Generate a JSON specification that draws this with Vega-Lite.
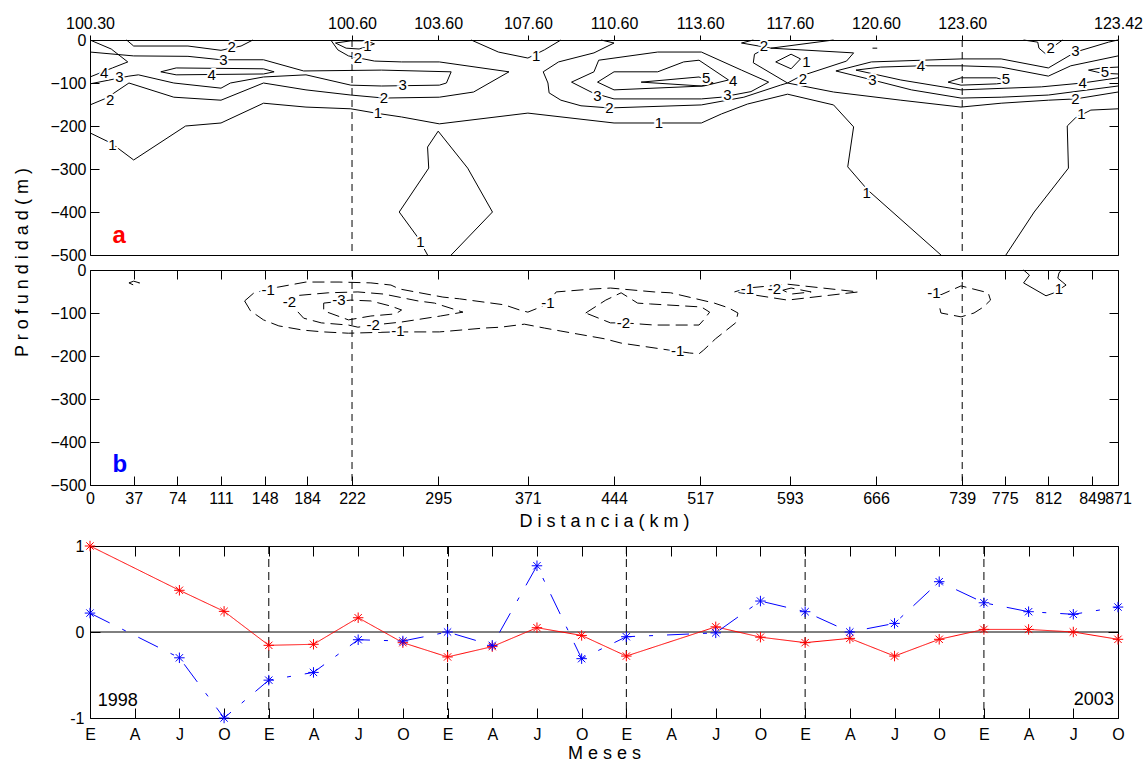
{
"$schema": "https://vega.github.io/schema/vega-lite/v6.json",
"background": "white",
"padding": {"left": 12, "top": 14, "right": 0, "bottom": 0},
"config": {
  "font": "Liberation Sans",
  "view": {"stroke": "black", "strokeWidth": 1},
  "axis": {"grid": false, "labelFontSize": 16, "labelColor": "black", "tickColor": "black", "tickWidth": 1, "titleColor": "black", "titleFontWeight": "normal", "titleFontSize": 18, "labelFlush": false}
},
"datasets": {
  "sec": [{"km": 222}, {"km": 739}],
  "ca": [
    {"g":"a01","lvl":2,"x":31,"y":0},{"g":"a01","lvl":2,"x":37,"y":-14},{"g":"a01","lvl":2,"x":83,"y":-14},{"g":"a01","lvl":2,"x":111,"y":-24},{"g":"a01","lvl":2,"x":128,"y":-14},{"g":"a01","lvl":2,"x":138,"y":0},
    {"g":"a02","lvl":4,"x":0,"y":0},{"g":"a02","lvl":4,"x":18,"y":-21},{"g":"a02","lvl":4,"x":32,"y":-51},{"g":"a02","lvl":4,"x":19,"y":-65},{"g":"a02","lvl":4,"x":0,"y":-86},
    {"g":"a03","lvl":3,"x":0,"y":-28},{"g":"a03","lvl":3,"x":37,"y":-37},{"g":"a03","lvl":3,"x":83,"y":-38},{"g":"a03","lvl":3,"x":111,"y":-46},{"g":"a03","lvl":3,"x":147,"y":-46},{"g":"a03","lvl":3,"x":181,"y":-72},{"g":"a03","lvl":3,"x":247,"y":-70},{"g":"a03","lvl":3,"x":306,"y":-74},{"g":"a03","lvl":3,"x":302,"y":-100},{"g":"a03","lvl":3,"x":296,"y":-105},{"g":"a03","lvl":3,"x":247,"y":-107},{"g":"a03","lvl":3,"x":221,"y":-105},{"g":"a03","lvl":3,"x":183,"y":-81},{"g":"a03","lvl":3,"x":147,"y":-86},{"g":"a03","lvl":3,"x":119,"y":-100},{"g":"a03","lvl":3,"x":111,"y":-112},{"g":"a03","lvl":3,"x":71,"y":-100},{"g":"a03","lvl":3,"x":41,"y":-81},{"g":"a03","lvl":3,"x":33,"y":-84},{"g":"a03","lvl":3,"x":0,"y":-102},
    {"g":"a04","lvl":4,"x":60,"y":-74},{"g":"a04","lvl":4,"x":73,"y":-65},{"g":"a04","lvl":4,"x":147,"y":-67},{"g":"a04","lvl":4,"x":156,"y":-74},{"g":"a04","lvl":4,"x":147,"y":-79},{"g":"a04","lvl":4,"x":73,"y":-81},{"g":"a04","lvl":4,"x":60,"y":-74},
    {"g":"a05","lvl":2,"x":204,"y":0},{"g":"a05","lvl":2,"x":210,"y":-23},{"g":"a05","lvl":2,"x":219,"y":-37},{"g":"a05","lvl":2,"x":241,"y":-49},{"g":"a05","lvl":2,"x":264,"y":-51},{"g":"a05","lvl":2,"x":296,"y":-51},{"g":"a05","lvl":2,"x":355,"y":-74},{"g":"a05","lvl":2,"x":325,"y":-121},{"g":"a05","lvl":2,"x":296,"y":-133},{"g":"a05","lvl":2,"x":249,"y":-135},{"g":"a05","lvl":2,"x":221,"y":-128},{"g":"a05","lvl":2,"x":183,"y":-116},{"g":"a05","lvl":2,"x":147,"y":-100},{"g":"a05","lvl":2,"x":111,"y":-140},{"g":"a05","lvl":2,"x":71,"y":-133},{"g":"a05","lvl":2,"x":33,"y":-100},{"g":"a05","lvl":2,"x":14,"y":-135},{"g":"a05","lvl":2,"x":0,"y":-151},
    {"g":"a06","lvl":1,"x":208,"y":-7},{"g":"a06","lvl":1,"x":217,"y":-19},{"g":"a06","lvl":1,"x":228,"y":-21},{"g":"a06","lvl":1,"x":241,"y":-9},{"g":"a06","lvl":1,"x":234,"y":-2},{"g":"a06","lvl":1,"x":221,"y":-2},{"g":"a06","lvl":1,"x":208,"y":-7},
    {"g":"a07","lvl":1,"x":0,"y":-216},{"g":"a07","lvl":1,"x":18,"y":-240},{"g":"a07","lvl":1,"x":37,"y":-279},{"g":"a07","lvl":1,"x":81,"y":-200},{"g":"a07","lvl":1,"x":111,"y":-193},{"g":"a07","lvl":1,"x":147,"y":-147},{"g":"a07","lvl":1,"x":183,"y":-156},{"g":"a07","lvl":1,"x":221,"y":-160},{"g":"a07","lvl":1,"x":242,"y":-170},{"g":"a07","lvl":1,"x":264,"y":-179},{"g":"a07","lvl":1,"x":296,"y":-195},{"g":"a07","lvl":1,"x":371,"y":-170},{"g":"a07","lvl":1,"x":444,"y":-193},{"g":"a07","lvl":1,"x":518,"y":-193},{"g":"a07","lvl":1,"x":535,"y":-172},{"g":"a07","lvl":1,"x":557,"y":-149},{"g":"a07","lvl":1,"x":591,"y":-126},{"g":"a07","lvl":1,"x":630,"y":-151},{"g":"a07","lvl":1,"x":647,"y":-202},{"g":"a07","lvl":1,"x":642,"y":-295},{"g":"a07","lvl":1,"x":659,"y":-349},{"g":"a07","lvl":1,"x":721,"y":-500},
    {"g":"a08","lvl":1,"x":306,"y":-500},{"g":"a08","lvl":1,"x":341,"y":-400},{"g":"a08","lvl":1,"x":320,"y":-298},{"g":"a08","lvl":1,"x":295,"y":-212},{"g":"a08","lvl":1,"x":286,"y":-249},{"g":"a08","lvl":1,"x":287,"y":-298},{"g":"a08","lvl":1,"x":262,"y":-400},{"g":"a08","lvl":1,"x":278,"y":-460},{"g":"a08","lvl":1,"x":286,"y":-500},
    {"g":"a09","lvl":1,"x":323,"y":0},{"g":"a09","lvl":1,"x":346,"y":-28},{"g":"a09","lvl":1,"x":371,"y":-42},{"g":"a09","lvl":1,"x":385,"y":-23},{"g":"a09","lvl":1,"x":399,"y":0},
    {"g":"a10","lvl":2,"x":577,"y":-19},{"g":"a10","lvl":2,"x":647,"y":-30},{"g":"a10","lvl":2,"x":641,"y":-49},{"g":"a10","lvl":2,"x":602,"y":-84},{"g":"a10","lvl":2,"x":591,"y":-100},{"g":"a10","lvl":2,"x":585,"y":-105},{"g":"a10","lvl":2,"x":554,"y":-133},{"g":"a10","lvl":2,"x":518,"y":-151},{"g":"a10","lvl":2,"x":440,"y":-158},{"g":"a10","lvl":2,"x":416,"y":-153},{"g":"a10","lvl":2,"x":399,"y":-140},{"g":"a10","lvl":2,"x":389,"y":-123},{"g":"a10","lvl":2,"x":388,"y":-100},{"g":"a10","lvl":2,"x":384,"y":-74},{"g":"a10","lvl":2,"x":397,"y":-51},{"g":"a10","lvl":2,"x":427,"y":-30},{"g":"a10","lvl":2,"x":444,"y":-7},{"g":"a10","lvl":2,"x":433,"y":0},
    {"g":"a11","lvl":2,"x":562,"y":0},{"g":"a11","lvl":2,"x":552,"y":-7},{"g":"a11","lvl":2,"x":577,"y":-19},{"g":"a11","lvl":2,"x":630,"y":0},
    {"g":"a12","lvl":2,"x":570,"y":-23},{"g":"a12","lvl":2,"x":563,"y":-33},{"g":"a12","lvl":2,"x":562,"y":-53},{"g":"a12","lvl":2,"x":591,"y":-100},{"g":"a12","lvl":2,"x":630,"y":-121},{"g":"a12","lvl":2,"x":687,"y":-140},{"g":"a12","lvl":2,"x":738,"y":-156},{"g":"a12","lvl":2,"x":772,"y":-147},{"g":"a12","lvl":2,"x":812,"y":-140},{"g":"a12","lvl":2,"x":835,"y":-137},{"g":"a12","lvl":2,"x":871,"y":-121},
    {"g":"a13","lvl":3,"x":408,"y":-98},{"g":"a13","lvl":3,"x":427,"y":-74},{"g":"a13","lvl":3,"x":431,"y":-47},{"g":"a13","lvl":3,"x":481,"y":-28},{"g":"a13","lvl":3,"x":518,"y":-28},{"g":"a13","lvl":3,"x":552,"y":-70},{"g":"a13","lvl":3,"x":575,"y":-98},{"g":"a13","lvl":3,"x":560,"y":-120},{"g":"a13","lvl":3,"x":535,"y":-133},{"g":"a13","lvl":3,"x":518,"y":-137},{"g":"a13","lvl":3,"x":444,"y":-137},{"g":"a13","lvl":3,"x":426,"y":-123},{"g":"a13","lvl":3,"x":408,"y":-98},
    {"g":"a14","lvl":4,"x":430,"y":-98},{"g":"a14","lvl":4,"x":444,"y":-74},{"g":"a14","lvl":4,"x":481,"y":-74},{"g":"a14","lvl":4,"x":503,"y":-51},{"g":"a14","lvl":4,"x":516,"y":-47},{"g":"a14","lvl":4,"x":541,"y":-93},{"g":"a14","lvl":4,"x":520,"y":-107},{"g":"a14","lvl":4,"x":444,"y":-116},{"g":"a14","lvl":4,"x":430,"y":-98},
    {"g":"a15","lvl":5,"x":467,"y":-98},{"g":"a15","lvl":5,"x":516,"y":-86},{"g":"a15","lvl":5,"x":528,"y":-100},{"g":"a15","lvl":5,"x":518,"y":-107},{"g":"a15","lvl":5,"x":467,"y":-98},
    {"g":"a16","lvl":1,"x":581,"y":-51},{"g":"a16","lvl":1,"x":594,"y":-33},{"g":"a16","lvl":1,"x":602,"y":-44},{"g":"a16","lvl":1,"x":594,"y":-67},{"g":"a16","lvl":1,"x":581,"y":-51},
    {"g":"a17","lvl":2,"x":663,"y":-19},{"g":"a17","lvl":2,"x":667,"y":-19},
    {"g":"a18","lvl":3,"x":871,"y":0},{"g":"a18","lvl":3,"x":863,"y":-5},{"g":"a18","lvl":3,"x":835,"y":-28},{"g":"a18","lvl":3,"x":812,"y":-65},{"g":"a18","lvl":3,"x":772,"y":-44},{"g":"a18","lvl":3,"x":738,"y":-44},{"g":"a18","lvl":3,"x":662,"y":-51},{"g":"a18","lvl":3,"x":632,"y":-72},{"g":"a18","lvl":3,"x":663,"y":-93},{"g":"a18","lvl":3,"x":696,"y":-116},{"g":"a18","lvl":3,"x":738,"y":-135},{"g":"a18","lvl":3,"x":772,"y":-133},{"g":"a18","lvl":3,"x":812,"y":-128},{"g":"a18","lvl":3,"x":871,"y":-107},
    {"g":"a19","lvl":4,"x":871,"y":-37},{"g":"a19","lvl":4,"x":831,"y":-60},{"g":"a19","lvl":4,"x":812,"y":-84},{"g":"a19","lvl":4,"x":772,"y":-63},{"g":"a19","lvl":4,"x":738,"y":-60},{"g":"a19","lvl":4,"x":704,"y":-60},{"g":"a19","lvl":4,"x":670,"y":-63},{"g":"a19","lvl":4,"x":649,"y":-70},{"g":"a19","lvl":4,"x":687,"y":-93},{"g":"a19","lvl":4,"x":738,"y":-116},{"g":"a19","lvl":4,"x":806,"y":-109},{"g":"a19","lvl":4,"x":841,"y":-100},{"g":"a19","lvl":4,"x":871,"y":-88},
    {"g":"a20","lvl":5,"x":727,"y":-98},{"g":"a20","lvl":5,"x":738,"y":-88},{"g":"a20","lvl":5,"x":768,"y":-88},{"g":"a20","lvl":5,"x":780,"y":-98},{"g":"a20","lvl":5,"x":768,"y":-102},{"g":"a20","lvl":5,"x":738,"y":-105},{"g":"a20","lvl":5,"x":727,"y":-98},
    {"g":"a21","lvl":5,"x":871,"y":-63},{"g":"a21","lvl":5,"x":857,"y":-65},{"g":"a21","lvl":5,"x":846,"y":-70},{"g":"a21","lvl":5,"x":857,"y":-77},{"g":"a21","lvl":5,"x":871,"y":-79},
    {"g":"a22","lvl":2,"x":791,"y":0},{"g":"a22","lvl":2,"x":803,"y":-5},{"g":"a22","lvl":2,"x":804,"y":-19},{"g":"a22","lvl":2,"x":810,"y":-33},{"g":"a22","lvl":2,"x":818,"y":-12},{"g":"a22","lvl":2,"x":824,"y":0},
    {"g":"a23","lvl":1,"x":776,"y":-500},{"g":"a23","lvl":1,"x":800,"y":-400},{"g":"a23","lvl":1,"x":829,"y":-298},{"g":"a23","lvl":1,"x":828,"y":-200},{"g":"a23","lvl":1,"x":835,"y":-181},{"g":"a23","lvl":1,"x":848,"y":-163},{"g":"a23","lvl":1,"x":871,"y":-160}
  ],
  "la": [
    {"x":120,"y":-17,"t":"2"},{"x":12,"y":-77,"t":"4"},{"x":25,"y":-86,"t":"3"},{"x":113,"y":-46,"t":"3"},{"x":103,"y":-81,"t":"4"},{"x":265,"y":-105,"t":"3"},{"x":17,"y":-140,"t":"2"},{"x":227,"y":-42,"t":"2"},{"x":249,"y":-135,"t":"2"},{"x":235,"y":-14,"t":"1"},{"x":19,"y":-244,"t":"1"},{"x":244,"y":-170,"t":"1"},{"x":378,"y":-37,"t":"1"},{"x":482,"y":-193,"t":"1"},{"x":280,"y":-470,"t":"1"},{"x":440,"y":-158,"t":"2"},{"x":430,"y":-130,"t":"3"},{"x":540,"y":-128,"t":"3"},{"x":545,"y":-95,"t":"4"},{"x":522,"y":-88,"t":"5"},{"x":571,"y":-14,"t":"2"},{"x":607,"y":-51,"t":"1"},{"x":604,"y":-91,"t":"2"},{"x":663,"y":-93,"t":"3"},{"x":704,"y":-60,"t":"4"},{"x":776,"y":-91,"t":"5"},{"x":814,"y":-19,"t":"2"},{"x":835,"y":-26,"t":"3"},{"x":860,"y":-74,"t":"5"},{"x":841,"y":-100,"t":"4"},{"x":835,"y":-137,"t":"2"},{"x":840,"y":-172,"t":"1"},{"x":658,"y":-356,"t":"1"}
  ],
  "cb": [
    {"g":"b00","lvl":-1,"x":33,"y":-30},{"g":"b00","lvl":-1,"x":37,"y":-26},{"g":"b00","lvl":-1,"x":42,"y":-30},{"g":"b00","lvl":-1,"x":37,"y":-35},{"g":"b00","lvl":-1,"x":33,"y":-30},
    {"g":"b01","lvl":-1,"x":131,"y":-72},{"g":"b01","lvl":-1,"x":139,"y":-53},{"g":"b01","lvl":-1,"x":159,"y":-40},{"g":"b01","lvl":-1,"x":183,"y":-28},{"g":"b01","lvl":-1,"x":211,"y":-28},{"g":"b01","lvl":-1,"x":238,"y":-30},{"g":"b01","lvl":-1,"x":255,"y":-35},{"g":"b01","lvl":-1,"x":262,"y":-44},{"g":"b01","lvl":-1,"x":299,"y":-63},{"g":"b01","lvl":-1,"x":313,"y":-67},{"g":"b01","lvl":-1,"x":351,"y":-81},{"g":"b01","lvl":-1,"x":364,"y":-93},{"g":"b01","lvl":-1,"x":371,"y":-98},{"g":"b01","lvl":-1,"x":380,"y":-88},{"g":"b01","lvl":-1,"x":388,"y":-77},{"g":"b01","lvl":-1,"x":395,"y":-51},{"g":"b01","lvl":-1,"x":427,"y":-44},{"g":"b01","lvl":-1,"x":441,"y":-42},{"g":"b01","lvl":-1,"x":478,"y":-51},{"g":"b01","lvl":-1,"x":492,"y":-53},{"g":"b01","lvl":-1,"x":529,"y":-77},{"g":"b01","lvl":-1,"x":541,"y":-88},{"g":"b01","lvl":-1,"x":549,"y":-100},{"g":"b01","lvl":-1,"x":547,"y":-123},{"g":"b01","lvl":-1,"x":530,"y":-160},{"g":"b01","lvl":-1,"x":520,"y":-186},{"g":"b01","lvl":-1,"x":516,"y":-195},{"g":"b01","lvl":-1,"x":508,"y":-193},{"g":"b01","lvl":-1,"x":490,"y":-186},{"g":"b01","lvl":-1,"x":450,"y":-170},{"g":"b01","lvl":-1,"x":436,"y":-160},{"g":"b01","lvl":-1,"x":399,"y":-142},{"g":"b01","lvl":-1,"x":385,"y":-135},{"g":"b01","lvl":-1,"x":368,"y":-126},{"g":"b01","lvl":-1,"x":348,"y":-133},{"g":"b01","lvl":-1,"x":334,"y":-135},{"g":"b01","lvl":-1,"x":296,"y":-144},{"g":"b01","lvl":-1,"x":259,"y":-144},{"g":"b01","lvl":-1,"x":219,"y":-147},{"g":"b01","lvl":-1,"x":198,"y":-144},{"g":"b01","lvl":-1,"x":181,"y":-140},{"g":"b01","lvl":-1,"x":160,"y":-130},{"g":"b01","lvl":-1,"x":147,"y":-116},{"g":"b01","lvl":-1,"x":136,"y":-95},{"g":"b01","lvl":-1,"x":131,"y":-72},
    {"g":"b02","lvl":-2,"x":164,"y":-77},{"g":"b02","lvl":-2,"x":173,"y":-60},{"g":"b02","lvl":-2,"x":202,"y":-53},{"g":"b02","lvl":-2,"x":227,"y":-51},{"g":"b02","lvl":-2,"x":249,"y":-56},{"g":"b02","lvl":-2,"x":278,"y":-72},{"g":"b02","lvl":-2,"x":292,"y":-77},{"g":"b02","lvl":-2,"x":316,"y":-98},{"g":"b02","lvl":-2,"x":297,"y":-107},{"g":"b02","lvl":-2,"x":264,"y":-121},{"g":"b02","lvl":-2,"x":240,"y":-128},{"g":"b02","lvl":-2,"x":227,"y":-133},{"g":"b02","lvl":-2,"x":219,"y":-128},{"g":"b02","lvl":-2,"x":196,"y":-123},{"g":"b02","lvl":-2,"x":181,"y":-112},{"g":"b02","lvl":-2,"x":173,"y":-88},{"g":"b02","lvl":-2,"x":164,"y":-77},
    {"g":"b03","lvl":-3,"x":198,"y":-77},{"g":"b03","lvl":-3,"x":221,"y":-70},{"g":"b03","lvl":-3,"x":238,"y":-72},{"g":"b03","lvl":-3,"x":255,"y":-84},{"g":"b03","lvl":-3,"x":264,"y":-93},{"g":"b03","lvl":-3,"x":259,"y":-102},{"g":"b03","lvl":-3,"x":238,"y":-107},{"g":"b03","lvl":-3,"x":219,"y":-116},{"g":"b03","lvl":-3,"x":198,"y":-95},{"g":"b03","lvl":-3,"x":198,"y":-77},
    {"g":"b04","lvl":-2,"x":420,"y":-100},{"g":"b04","lvl":-2,"x":437,"y":-70},{"g":"b04","lvl":-2,"x":450,"y":-53},{"g":"b04","lvl":-2,"x":464,"y":-77},{"g":"b04","lvl":-2,"x":475,"y":-79},{"g":"b04","lvl":-2,"x":518,"y":-86},{"g":"b04","lvl":-2,"x":525,"y":-98},{"g":"b04","lvl":-2,"x":520,"y":-116},{"g":"b04","lvl":-2,"x":516,"y":-128},{"g":"b04","lvl":-2,"x":478,"y":-128},{"g":"b04","lvl":-2,"x":453,"y":-123},{"g":"b04","lvl":-2,"x":441,"y":-123},{"g":"b04","lvl":-2,"x":420,"y":-100},
    {"g":"b05","lvl":-1,"x":546,"y":-51},{"g":"b05","lvl":-1,"x":557,"y":-42},{"g":"b05","lvl":-1,"x":591,"y":-33},{"g":"b05","lvl":-1,"x":651,"y":-51},{"g":"b05","lvl":-1,"x":591,"y":-70},{"g":"b05","lvl":-1,"x":546,"y":-51},
    {"g":"b06","lvl":-2,"x":587,"y":-47},{"g":"b06","lvl":-2,"x":594,"y":-42},{"g":"b06","lvl":-2,"x":611,"y":-51},{"g":"b06","lvl":-2,"x":594,"y":-56},{"g":"b06","lvl":-2,"x":587,"y":-47},
    {"g":"b07","lvl":-1,"x":719,"y":-60},{"g":"b07","lvl":-1,"x":738,"y":-37},{"g":"b07","lvl":-1,"x":761,"y":-53},{"g":"b07","lvl":-1,"x":763,"y":-70},{"g":"b07","lvl":-1,"x":757,"y":-86},{"g":"b07","lvl":-1,"x":749,"y":-100},{"g":"b07","lvl":-1,"x":738,"y":-109},{"g":"b07","lvl":-1,"x":721,"y":-100},{"g":"b07","lvl":-1,"x":719,"y":-77},
    {"g":"b08","lvl":1,"x":791,"y":0},{"g":"b08","lvl":1,"x":796,"y":-12},{"g":"b08","lvl":1,"x":791,"y":-30},{"g":"b08","lvl":1,"x":810,"y":-60},{"g":"b08","lvl":1,"x":817,"y":-53},{"g":"b08","lvl":1,"x":827,"y":-35},{"g":"b08","lvl":1,"x":820,"y":-19},{"g":"b08","lvl":1,"x":821,"y":-7},{"g":"b08","lvl":1,"x":823,"y":0}
  ],
  "lb": [
    {"x":151,"y":-47,"t":"-1"},{"x":169,"y":-74,"t":"-2"},{"x":211,"y":-70,"t":"-3"},{"x":240,"y":-128,"t":"-2"},{"x":261,"y":-142,"t":"-1"},{"x":388,"y":-77,"t":"-1"},{"x":452,"y":-123,"t":"-2"},{"x":498,"y":-188,"t":"-1"},{"x":557,"y":-44,"t":"-1"},{"x":580,"y":-44,"t":"-2"},{"x":715,"y":-53,"t":"-1"},{"x":821,"y":-44,"t":"1"}
  ],
  "ts": [
    {"t":0,"s":"a","v":1.0},{"t":2,"s":"a","v":0.485},{"t":3,"s":"a","v":0.24},{"t":4,"s":"a","v":-0.155},{"t":5,"s":"a","v":-0.143},{"t":6,"s":"a","v":0.166},{"t":7,"s":"a","v":-0.124},{"t":8,"s":"a","v":-0.29},{"t":9,"s":"a","v":-0.17},{"t":10,"s":"a","v":0.05},{"t":11,"s":"a","v":-0.04},{"t":12,"s":"a","v":-0.28},{"t":14,"s":"a","v":0.06},{"t":15,"s":"a","v":-0.06},{"t":16,"s":"a","v":-0.124},{"t":17,"s":"a","v":-0.074},{"t":18,"s":"a","v":-0.28},{"t":19,"s":"a","v":-0.085},{"t":20,"s":"a","v":0.03},{"t":21,"s":"a","v":0.03},{"t":22,"s":"a","v":0.0},{"t":23,"s":"a","v":-0.085},
    {"t":0,"s":"b","v":0.22},{"t":2,"s":"b","v":-0.30},{"t":3,"s":"b","v":-1.0},{"t":4,"s":"b","v":-0.56},{"t":5,"s":"b","v":-0.47},{"t":6,"s":"b","v":-0.09},{"t":7,"s":"b","v":-0.105},{"t":8,"s":"b","v":0.0},{"t":9,"s":"b","v":-0.155},{"t":10,"s":"b","v":0.77},{"t":11,"s":"b","v":-0.31},{"t":12,"s":"b","v":-0.055},{"t":14,"s":"b","v":-0.01},{"t":15,"s":"b","v":0.36},{"t":16,"s":"b","v":0.236},{"t":17,"s":"b","v":0.0},{"t":18,"s":"b","v":0.10},{"t":19,"s":"b","v":0.585},{"t":20,"s":"b","v":0.34},{"t":21,"s":"b","v":0.236},{"t":22,"s":"b","v":0.206},{"t":23,"s":"b","v":0.29}
  ]
},
"vconcat": [
  {
    "vconcat": [
      {
        "width": 1028, "height": 215,
        "layer": [
          {"data": {"name": "sec"}, "mark": {"type": "rule", "stroke": "black", "strokeWidth": 1, "strokeDash": [7, 5]},
           "encoding": {"x": {"field": "km", "type": "quantitative", "scale": {"domain": [0, 871], "nice": false, "zero": false}, "axis": null}}},
          {"data": {"name": "ca"}, "mark": {"type": "line", "stroke": "black", "strokeWidth": 1},
           "encoding": {
             "x": {"field": "x", "type": "quantitative", "scale": {"domain": [0, 871], "nice": false, "zero": false},
                   "axis": {"orient": "top", "values": [0, 222, 295, 371, 444, 517, 593, 666, 739, 871], "labelExpr": "datum.value==0?'100.30':datum.value==222?'100.60':datum.value==295?'103.60':datum.value==371?'107.60':datum.value==444?'110.60':datum.value==517?'113.60':datum.value==593?'117.60':datum.value==666?'120.60':datum.value==739?'123.60':'123.42'", "tickSize": 5, "labelPadding": 4, "domain": false, "title": null, "labelFlush": false, "labelOverlap": false}},
             "y": {"field": "y", "type": "quantitative", "scale": {"domain": [-500, 0], "nice": false, "zero": false},
                   "axis": {"orient": "left", "values": [0, -100, -200, -300, -400, -500], "tickSize": -9, "labelPadding": 13, "domain": false, "title": null, "labelFlush": false, "labelOverlap": false}},
             "detail": {"field": "g"},
             "order": {"value": null}
           }},
          {"data": {"name": "la"}, "mark": {"type": "text", "fontSize": 15, "fill": "white", "stroke": "white", "strokeWidth": 4, "align": "center", "baseline": "middle"},
           "encoding": {"x": {"field": "x", "type": "quantitative", "scale": {"domain": [0, 871], "nice": false, "zero": false}, "axis": null},
                        "y": {"field": "y", "type": "quantitative", "scale": {"domain": [-500, 0], "nice": false, "zero": false}, "axis": null},
                        "text": {"field": "t"}}},
          {"data": {"name": "la"}, "mark": {"type": "text", "fontSize": 15, "fill": "black", "align": "center", "baseline": "middle"},
           "encoding": {"x": {"field": "x", "type": "quantitative", "scale": {"domain": [0, 871], "nice": false, "zero": false}, "axis": null},
                        "y": {"field": "y", "type": "quantitative", "scale": {"domain": [-500, 0], "nice": false, "zero": false},
                              "axis": {"orient": "right", "values": [0, -100, -200, -300, -400, -500], "tickSize": -9, "labels": false, "domain": false, "title": null}},
                        "text": {"field": "t"}}},
          {"data": {"values": [{"x": 19, "y": -472, "t": "a"}]}, "mark": {"type": "text", "fontSize": 24, "fontWeight": "bold", "fill": "#ff0000", "align": "left", "baseline": "alphabetic"},
           "encoding": {"x": {"field": "x", "type": "quantitative", "scale": {"domain": [0, 871], "nice": false, "zero": false}, "axis": null},
                        "y": {"field": "y", "type": "quantitative", "scale": {"domain": [-500, 0], "nice": false, "zero": false}, "axis": null},
                        "text": {"field": "t"}}}
        ],
        "resolve": {"axis": {"x": "independent", "y": "independent"}}
      },
      {
        "width": 1028, "height": 215,
        "layer": [
          {"data": {"name": "sec"}, "mark": {"type": "rule", "stroke": "black", "strokeWidth": 1, "strokeDash": [7, 5]},
           "encoding": {"x": {"field": "km", "type": "quantitative", "scale": {"domain": [0, 871], "nice": false, "zero": false}, "axis": null}}},
          {"data": {"name": "cb"}, "transform": [{"filter": "datum.lvl < 0"}], "mark": {"type": "line", "stroke": "black", "strokeWidth": 1, "strokeDash": [12, 6]},
           "encoding": {
             "x": {"field": "x", "type": "quantitative", "scale": {"domain": [0, 871], "nice": false, "zero": false},
                   "axis": {"orient": "bottom", "values": [0, 37, 74, 111, 148, 184, 222, 295, 371, 444, 517, 593, 666, 739, 775, 812, 849, 871], "tickSize": -9, "labelPadding": 14, "domain": false, "labelFlush": false, "labelOverlap": false, "title": "D i s t a n c i a   ( k m )", "titlePadding": 6}},
             "y": {"field": "y", "type": "quantitative", "scale": {"domain": [-500, 0], "nice": false, "zero": false},
                   "axis": {"orient": "left", "values": [0, -100, -200, -300, -400, -500], "tickSize": -9, "labelPadding": 13, "domain": false, "labelFlush": false, "labelOverlap": false, "title": "P r o f u n d i d a d   ( m )", "titleX": -77, "titleY": -8, "titleBaseline": "top", "titleAlign": "center", "titleAngle": 270}},
             "detail": {"field": "g"},
             "order": {"value": null}
           }},
          {"data": {"name": "cb"}, "transform": [{"filter": "datum.lvl > 0"}], "mark": {"type": "line", "stroke": "black", "strokeWidth": 1},
           "encoding": {
             "x": {"field": "x", "type": "quantitative", "scale": {"domain": [0, 871], "nice": false, "zero": false}, "axis": null},
             "y": {"field": "y", "type": "quantitative", "scale": {"domain": [-500, 0], "nice": false, "zero": false}, "axis": null},
             "detail": {"field": "g"},
             "order": {"value": null}
           }},
          {"data": {"name": "lb"}, "mark": {"type": "text", "fontSize": 15, "fill": "white", "stroke": "white", "strokeWidth": 4, "align": "center", "baseline": "middle"},
           "encoding": {"x": {"field": "x", "type": "quantitative", "scale": {"domain": [0, 871], "nice": false, "zero": false}, "axis": null},
                        "y": {"field": "y", "type": "quantitative", "scale": {"domain": [-500, 0], "nice": false, "zero": false}, "axis": null},
                        "text": {"field": "t"}}},
          {"data": {"name": "lb"}, "mark": {"type": "text", "fontSize": 15, "fill": "black", "align": "center", "baseline": "middle"},
           "encoding": {"x": {"field": "x", "type": "quantitative", "scale": {"domain": [0, 871], "nice": false, "zero": false},
                              "axis": {"orient": "top", "values": [0, 37, 74, 111, 148, 184, 222, 295, 371, 444, 517, 593, 666, 739, 775, 812, 849, 871], "tickSize": -9, "labels": false, "domain": false, "title": null}},
                        "y": {"field": "y", "type": "quantitative", "scale": {"domain": [-500, 0], "nice": false, "zero": false},
                              "axis": {"orient": "right", "values": [0, -100, -200, -300, -400, -500], "tickSize": -9, "labels": false, "domain": false, "title": null}},
                        "text": {"field": "t"}}},
          {"data": {"values": [{"x": 19, "y": -470, "t": "b"}]}, "mark": {"type": "text", "fontSize": 24, "fontWeight": "bold", "fill": "#0000ff", "align": "left", "baseline": "alphabetic"},
           "encoding": {"x": {"field": "x", "type": "quantitative", "scale": {"domain": [0, 871], "nice": false, "zero": false}, "axis": null},
                        "y": {"field": "y", "type": "quantitative", "scale": {"domain": [-500, 0], "nice": false, "zero": false}, "axis": null},
                        "text": {"field": "t"}}}
        ],
        "resolve": {"axis": {"x": "independent", "y": "independent"}}
      }
    ],
    "spacing": 15,
    "bounds": "flush"
  },
  {
    "width": 1028, "height": 172,
    "layer": [
      {"data": {"values": [{"v": 0}]}, "mark": {"type": "rule", "stroke": "black", "strokeWidth": 1},
       "encoding": {"y": {"field": "v", "type": "quantitative", "scale": {"domain": [-1, 1], "nice": false, "zero": false}, "axis": null}}},
      {"data": {"values": [{"t": 4}, {"t": 8}, {"t": 12}, {"t": 16}, {"t": 20}]}, "mark": {"type": "rule", "stroke": "black", "strokeWidth": 1, "strokeDash": [8, 5]},
       "encoding": {"x": {"field": "t", "type": "quantitative", "scale": {"domain": [0, 23], "nice": false, "zero": false}, "axis": null}}},
      {"data": {"name": "ts"}, "mark": {"type": "line", "strokeWidth": 1},
       "encoding": {
         "x": {"field": "t", "type": "quantitative", "scale": {"domain": [0, 23], "nice": false, "zero": false},
               "axis": {"orient": "bottom", "values": [0,1,2,3,4,5,6,7,8,9,10,11,12,13,14,15,16,17,18,19,20,21,22,23], "labelExpr": "['E','A','J','O'][datum.value % 4]", "tickSize": -10, "labelPadding": 18, "domain": false, "labelFlush": false, "labelOverlap": false, "title": "M e s e s", "titlePadding": 2}},
         "y": {"field": "v", "type": "quantitative", "scale": {"domain": [-1, 1], "nice": false, "zero": false},
               "axis": {"orient": "left", "values": [-1, 0, 1], "labelExpr": "datum.value > 0.5 ? '1' : datum.value < -0.5 ? '-1' : '0'", "tickSize": -10, "labelPadding": 16, "domain": false, "title": null, "labelFlush": false, "labelOverlap": false}},
         "color": {"field": "s", "type": "nominal", "scale": {"domain": ["a", "b"], "range": ["#ff0000", "#0000ff"]}, "legend": null},
         "strokeDash": {"field": "s", "type": "nominal", "scale": {"domain": ["a", "b"], "range": [[1, 0], [22, 14, 4, 14]]}, "legend": null}
       }},
      {"data": {"name": "ts"}, "mark": {"type": "point", "shape": "M-1,0L1,0M0,-1L0,1M-0.7,-0.7L0.7,0.7M-0.7,0.7L0.7,-0.7", "size": 110, "filled": false, "strokeWidth": 1, "opacity": 1},
       "encoding": {
         "x": {"field": "t", "type": "quantitative", "scale": {"domain": [0, 23], "nice": false, "zero": false}, "axis": null},
         "y": {"field": "v", "type": "quantitative", "scale": {"domain": [-1, 1], "nice": false, "zero": false}, "axis": null},
         "color": {"field": "s", "type": "nominal", "scale": {"domain": ["a", "b"], "range": ["#ff0000", "#0000ff"]}, "legend": null}
       }},
      {"data": {"values": [{"t": 0.62, "v": -0.86, "txt": "1998"}, {"t": 22.46, "v": -0.85, "txt": "2003"}]}, "mark": {"type": "text", "fontSize": 18, "align": "center", "baseline": "alphabetic", "fill": "black"},
       "encoding": {
         "x": {"field": "t", "type": "quantitative", "scale": {"domain": [0, 23], "nice": false, "zero": false},
               "axis": {"orient": "top", "values": [0,1,2,3,4,5,6,7,8,9,10,11,12,13,14,15,16,17,18,19,20,21,22,23], "tickSize": -10, "labels": false, "domain": false, "title": null}},
         "y": {"field": "v", "type": "quantitative", "scale": {"domain": [-1, 1], "nice": false, "zero": false},
               "axis": {"orient": "right", "values": [-1, 0, 1], "tickSize": -10, "labels": false, "domain": false, "title": null}},
         "text": {"field": "txt"}
       }}
    ],
    "resolve": {"axis": {"x": "independent", "y": "independent"}}
  }
],
"spacing": 6,
"bounds": "full"
}
